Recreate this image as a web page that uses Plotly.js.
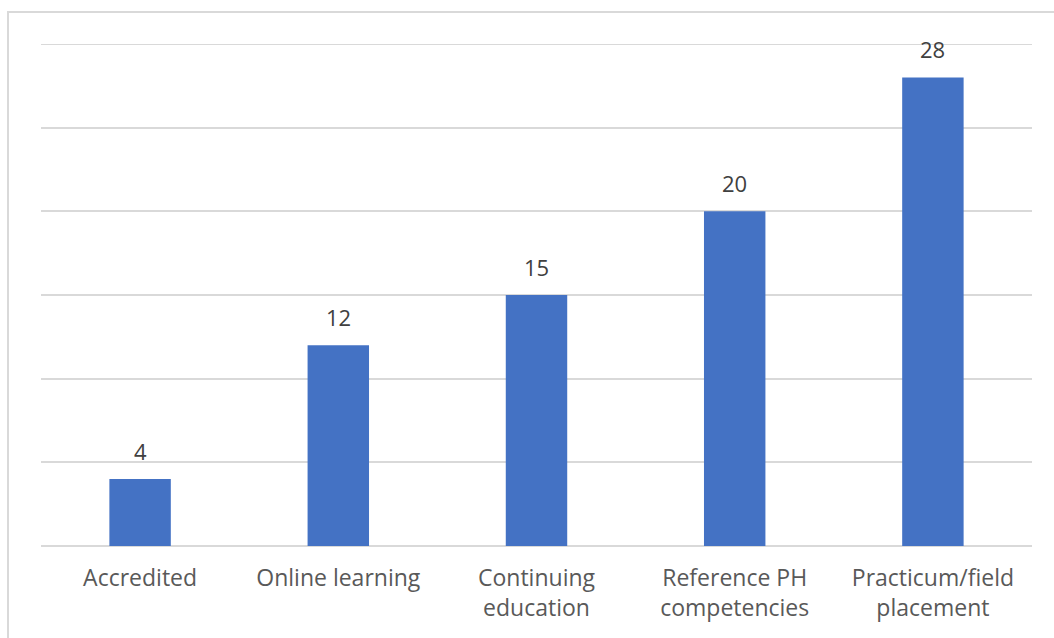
<!DOCTYPE html>
<html><head><meta charset="utf-8">
<script src="https://cdn.plot.ly/plotly-3.0.1.min.js"></script>
<style>html,body{margin:0;padding:0;background:#fff;}#chart{width:1054px;height:638px;}</style>
</head><body><div id="chart"></div>
<script>
const categories = ["Accredited", "Online learning", "Continuing<br>education", "Reference PH<br>competencies", "Practicum/field<br>placement"];
const values = [4, 12, 15, 20, 28];
const yMax = 30;

const annotations = categories.map((c, i) => ({
  x: c, y: values[i], xref: 'x', yref: 'y', text: String(values[i]),
  showarrow: false, yanchor: 'bottom', yshift: 11,
  font: {family: 'Open Sans, sans-serif', size: 22, color: '#404040'}
}));

const W = 1054, H = 638, ml = 41, mr = 22, mt = 44, mb = 92;
const pw = W - ml - mr, ph = H - mt - mb;

Plotly.newPlot('chart', [{
  type: 'bar', x: categories, y: values,
  marker: {color: '#4472C4'}, hoverinfo: 'skip'
}], {
  width: W, height: H,
  margin: {l: ml, r: mr, t: mt, b: mb, pad: 0},
  paper_bgcolor: '#fff', plot_bgcolor: '#fff',
  bargap: 0.69,
  showlegend: false,
  font: {family: 'Open Sans, sans-serif', color: '#595959'},
  xaxis: {
    showgrid: false, zeroline: false, showline: false, ticks: '',
    tickfont: {size: 23, color: '#595959'}, automargin: false,
    ticklabelstandoff: 16
  },
  yaxis: {
    range: [0, yMax], dtick: 5, showticklabels: false, ticks: '',
    showgrid: true, gridcolor: '#d9d9d9', gridwidth: 2,
    zeroline: true, zerolinecolor: '#d9d9d9', zerolinewidth: 2,
    showline: false, automargin: false
  },
  annotations: annotations,
  shapes: [{
    type: 'line', xref: 'paper', yref: 'y', x0: 0, x1: 1, y0: yMax, y1: yMax,
    line: {color: '#d9d9d9', width: 2}, layer: 'below'
  }, {
    type: 'rect', xref: 'paper', yref: 'paper',
    x0: (8 - ml) / pw, x1: (W + 10 - ml) / pw,
    y0: -(H + 10 - mt - ph) / ph, y1: (H - 12 - mb) / ph,
    line: {color: '#d9d9d9', width: 2}, fillcolor: 'rgba(0,0,0,0)', layer: 'below'
  }]
}, {displayModeBar: false, staticPlot: true});
</script></body></html>
